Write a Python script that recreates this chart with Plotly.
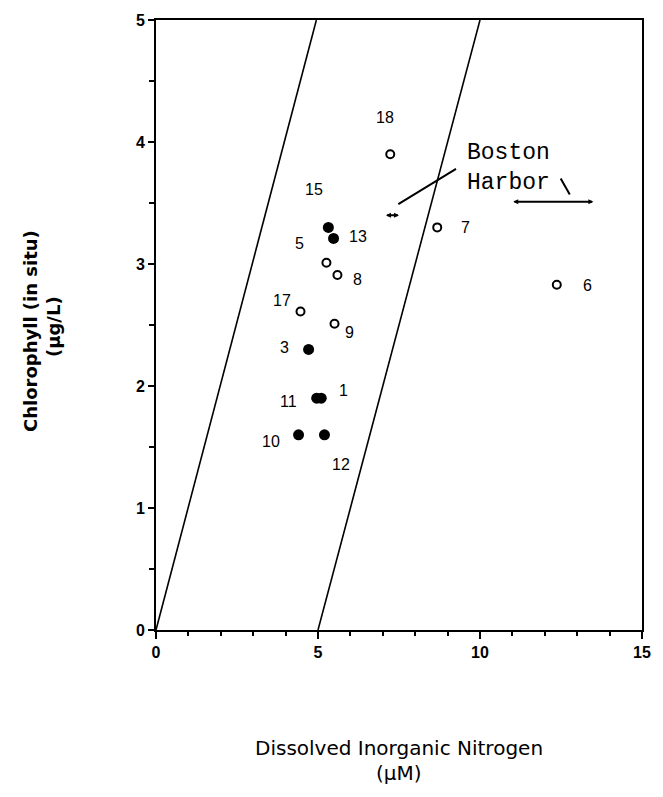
import plotly.graph_objects as go

# Station values: dissolved inorganic nitrogen (uM) vs in-situ chlorophyll (ug/L)
filled_labels = ["15", "13", "3", "11", "1", "10", "12"]
filled_din = [5.32, 5.48, 4.71, 4.96, 5.10, 4.40, 5.20]
filled_chl = [3.30, 3.21, 2.30, 1.90, 1.90, 1.60, 1.60]

open_labels = ["18", "7", "6", "5", "8", "17", "9"]
open_din = [7.23, 8.68, 12.37, 5.26, 5.60, 4.46, 5.51]
open_chl = [3.90, 3.30, 2.83, 3.01, 2.91, 2.61, 2.51]

# Label offsets (pixels) relative to each station marker
label_dx = {"15": -14, "13": 24, "3": -24, "11": -28, "1": 22, "10": -28, "12": 17,
            "18": -5, "7": 28, "6": 31, "5": -27, "8": 20, "17": -19, "9": 15}
label_dy = {"15": 38, "13": 2, "3": 2, "11": -3, "1": 8, "10": -7, "12": -30,
            "18": 37, "7": 0, "6": -1, "5": 19, "8": -5, "17": 11, "9": -9}

# Boston Harbor ranges (DIN span at a chlorophyll level)
harbor_din_lo = [7.05, 10.98]
harbor_din_hi = [7.50, 13.50]
harbor_chl = [3.40, 3.51]

# Reference lines of constant slope
line_a_x = [0, 4.95]
line_a_y = [0, 5]
line_b_x = [5, 10]
line_b_y = [0, 5]

x_ticks = [0, 5, 10, 15]
y_ticks = [0, 1, 2, 3, 4, 5]

fig = go.Figure()

fig.add_trace(go.Scatter(x=line_a_x, y=line_a_y, mode="lines",
                         line=dict(color="black", width=1.6), hoverinfo="skip"))
fig.add_trace(go.Scatter(x=line_b_x, y=line_b_y, mode="lines",
                         line=dict(color="black", width=1.6), hoverinfo="skip"))

fig.add_trace(go.Scatter(x=filled_din, y=filled_chl, mode="markers",
                         marker=dict(symbol="circle", size=11, color="black")))
fig.add_trace(go.Scatter(x=open_din, y=open_chl, mode="markers",
                         marker=dict(symbol="circle-open", size=8, color="black",
                                     line=dict(width=2))))

annotations = []
for lbl, x, y in list(zip(filled_labels, filled_din, filled_chl)) + list(zip(open_labels, open_din, open_chl)):
    annotations.append(dict(x=x, y=y, text=lbl, showarrow=False,
                            xshift=label_dx[lbl], yshift=label_dy[lbl],
                            font=dict(family="Liberation Sans", size=16, color="black")))

for lo, hi, c in zip(harbor_din_lo, harbor_din_hi, harbor_chl):
    annotations.append(dict(x=hi, y=c, ax=lo, ay=c, axref="x", ayref="y",
                            xref="x", yref="y", text="", showarrow=True,
                            arrowside="end+start", arrowhead=2, arrowsize=0.5,
                            arrowwidth=2, arrowcolor="black"))

annotations.append(dict(x=9.55, y=3.79, xref="x", yref="y", text="Boston<br>Harbor",
                        showarrow=False, xanchor="left", align="left",
                        font=dict(family="Liberation Mono", size=23, color="black")))

title_font_x = dict(family="DejaVu Sans", size=20, color="black")
annotations.append(dict(xref="paper", yref="paper", x=0.5, y=0, yshift=-118,
                        yanchor="middle", xanchor="center",
                        text="Dissolved Inorganic Nitrogen", showarrow=False,
                        font=title_font_x))
annotations.append(dict(xref="paper", yref="paper", x=0.5, y=0, yshift=-143,
                        yanchor="middle", xanchor="center",
                        text="(µM)", showarrow=False, font=title_font_x))

title_font_y = dict(family="DejaVu Sans", size=18, color="black")
annotations.append(dict(xref="paper", yref="paper", x=0, y=0.5, xshift=-126, yshift=-6,
                        xanchor="center", yanchor="middle",
                        text="<b>Chlorophyll (in situ)</b>", showarrow=False,
                        textangle=-90, font=title_font_y))
annotations.append(dict(xref="paper", yref="paper", x=0, y=0.5, xshift=-103, yshift=-2,
                        xanchor="center", yanchor="middle",
                        text="<b>(µg/L)</b>", showarrow=False,
                        textangle=-90, font=title_font_y))

shapes = [
    dict(type="line", xref="x", yref="y", x0=7.48, y0=3.49, x1=9.26, y1=3.78,
         line=dict(color="black", width=2)),
    dict(type="line", xref="x", yref="y", x0=12.49, y0=3.70, x1=12.77, y1=3.57,
         line=dict(color="black", width=2)),
]

axis_font = dict(family="Liberation Sans", size=16, color="black", weight="bold")
fig.update_layout(
    width=663, height=797,
    margin=dict(l=156, r=19, t=18, b=167),
    plot_bgcolor="white", paper_bgcolor="white",
    showlegend=False,
    annotations=annotations,
    shapes=shapes,
    xaxis=dict(range=[0, 15], tickvals=x_ticks, ticktext=[str(v) for v in x_ticks],
               showgrid=False, zeroline=False, showline=True, mirror=True,
               linecolor="black", linewidth=2, ticks="outside", ticklen=7,
               tickwidth=2, tickcolor="black", tickfont=axis_font,
               minor=dict(dtick=1, ticks="outside", ticklen=4, tickwidth=1.5,
                          tickcolor="black", showgrid=False)),
    yaxis=dict(range=[0, 5], tickvals=y_ticks, ticktext=[str(v) for v in y_ticks],
               showgrid=False, zeroline=False, showline=True, mirror=True,
               linecolor="black", linewidth=2, ticks="outside", ticklen=6,
               tickwidth=2, tickcolor="black", tickfont=axis_font,
               minor=dict(dtick=0.5, ticks="outside", ticklen=5, tickwidth=1.5,
                          tickcolor="black", showgrid=False)),
)

fig.write_html("out.html")
